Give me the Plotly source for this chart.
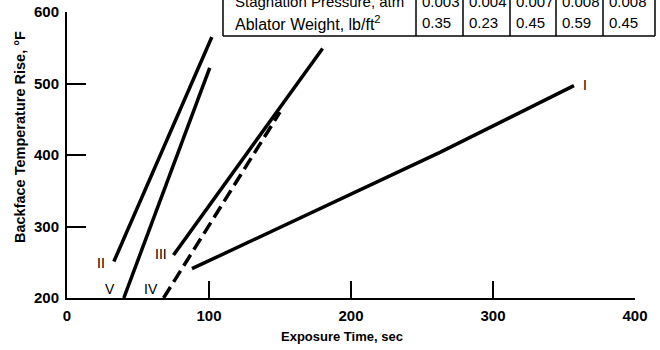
import plotly.graph_objects as go

# ---- data ----
curve_I_x = [88, 263, 357]
curve_I_y = [241, 404, 497]
curve_II_x = [33, 102]
curve_II_y = [251, 565]
curve_III_x = [75, 180]
curve_III_y = [260, 549]
curve_IV_x = [68, 150]
curve_IV_y = [200, 460]
curve_V_x = [40, 100.5]
curve_V_y = [200, 522]

label_names = ["I", "II", "III", "IV", "V"]
label_x = [365, 24, 66, 59, 30]
label_y = [498, 249, 261, 213, 213]

x_ticks = [0, 100, 200, 300, 400]
y_ticks = [200, 300, 400, 500, 600]

table_rows = ["Stagnation Pressure, atm", "Ablator Weight, lb/ft<sup>2</sup>"]
stag_pressure = ["0.003", "0.004", "0.007", "0.008", "0.008"]
ablator_weight = ["0.35", "0.23", "0.45", "0.59", "0.45"]

# ---- layout geometry (pixels) ----
W, H = 660, 350
L, R, T, B = 67, 25, 12, 52
PW = W - L - R
PH = H - T - B


def px_x(p):
    return (p - L) / PW


def px_y(p):
    return (H - B - p) / PH


FONT = "Liberation Sans, Arial, sans-serif"
BLACK = "#000000"

fig = go.Figure()
for xs, ys, dash in [
    (curve_I_x, curve_I_y, "solid"),
    (curve_II_x, curve_II_y, "solid"),
    (curve_III_x, curve_III_y, "solid"),
    (curve_IV_x, curve_IV_y, "13px,6px"),
    (curve_V_x, curve_V_y, "solid"),
]:
    fig.add_trace(go.Scatter(x=xs, y=ys, mode="lines",
                             line=dict(color=BLACK, width=3.5, dash=dash),
                             showlegend=False, hoverinfo="skip"))

annotations = []
for n, lx, ly in zip(label_names, label_x, label_y):
    annotations.append(dict(x=lx, y=ly, xref="x", yref="y", text=n, showarrow=False,
                            xanchor="center", yanchor="middle",
                            font=dict(family=FONT, size=14, color=BLACK)))

# axis titles
annotations.append(dict(x=px_x(342), y=px_y(337), xref="paper", yref="paper",
                        text="Exposure Time, sec", showarrow=False,
                        xanchor="center", yanchor="middle",
                        font=dict(family=FONT, size=13, color=BLACK, weight="bold")))
annotations.append(dict(x=px_x(20), y=px_y(137), xref="paper", yref="paper",
                        text="Backface Temperature Rise, °F", showarrow=False,
                        textangle=-90, xanchor="center", yanchor="middle",
                        font=dict(family=FONT, size=14.5, color=BLACK, weight="bold")))

# table
col_edges = [416, 463, 510, 556, 603, 655]
row_centers = [2, 23]
row_sizes = [15, 16]
for r, (name, vals) in enumerate(zip(table_rows, [stag_pressure, ablator_weight])):
    yc = row_centers[r]
    annotations.append(dict(x=px_x(233), y=px_y(yc), xref="paper", yref="paper",
                            text=name, showarrow=False, xanchor="left", yanchor="middle",
                            font=dict(family=FONT, size=row_sizes[r], color=BLACK)))
    for i, v in enumerate(vals):
        annotations.append(dict(x=px_x(col_edges[i] + 4), y=px_y(yc), xref="paper",
                                yref="paper", text=v, showarrow=False,
                                xanchor="left", yanchor="middle",
                                font=dict(family=FONT, size=15, color=BLACK)))

shapes = []
bl = dict(color=BLACK, width=1.5)
shapes.append(dict(type="line", xref="paper", yref="paper", x0=px_x(223), x1=px_x(655),
                   y0=px_y(36), y1=px_y(36), line=bl))
for xe in [223] + col_edges:
    shapes.append(dict(type="line", xref="paper", yref="paper", x0=px_x(xe), x1=px_x(xe),
                       y0=px_y(36), y1=px_y(-5), line=bl))

fig.update_layout(
    width=W, height=H,
    margin=dict(l=L, r=R, t=T, b=B, autoexpand=False),
    paper_bgcolor="white", plot_bgcolor="white",
    annotations=annotations, shapes=shapes,
    xaxis=dict(range=[0, 400], tickvals=x_ticks, ticks="inside", ticklen=17,
               tickwidth=2, tickcolor=BLACK, showgrid=False, zeroline=False,
               showline=True, linecolor=BLACK, linewidth=2,
               tickfont=dict(family=FONT, size=15, color=BLACK, weight="bold"),
               ticklabelstandoff=3, fixedrange=True),
    yaxis=dict(range=[200, 600], tickvals=y_ticks, ticks="inside", ticklen=19,
               tickwidth=2, tickcolor=BLACK, showgrid=False, zeroline=False,
               showline=True, linecolor=BLACK, linewidth=2,
               tickfont=dict(family=FONT, size=15, color=BLACK, weight="bold"),
               ticklabelstandoff=3, fixedrange=True),
)

fig.write_html("out.html")
